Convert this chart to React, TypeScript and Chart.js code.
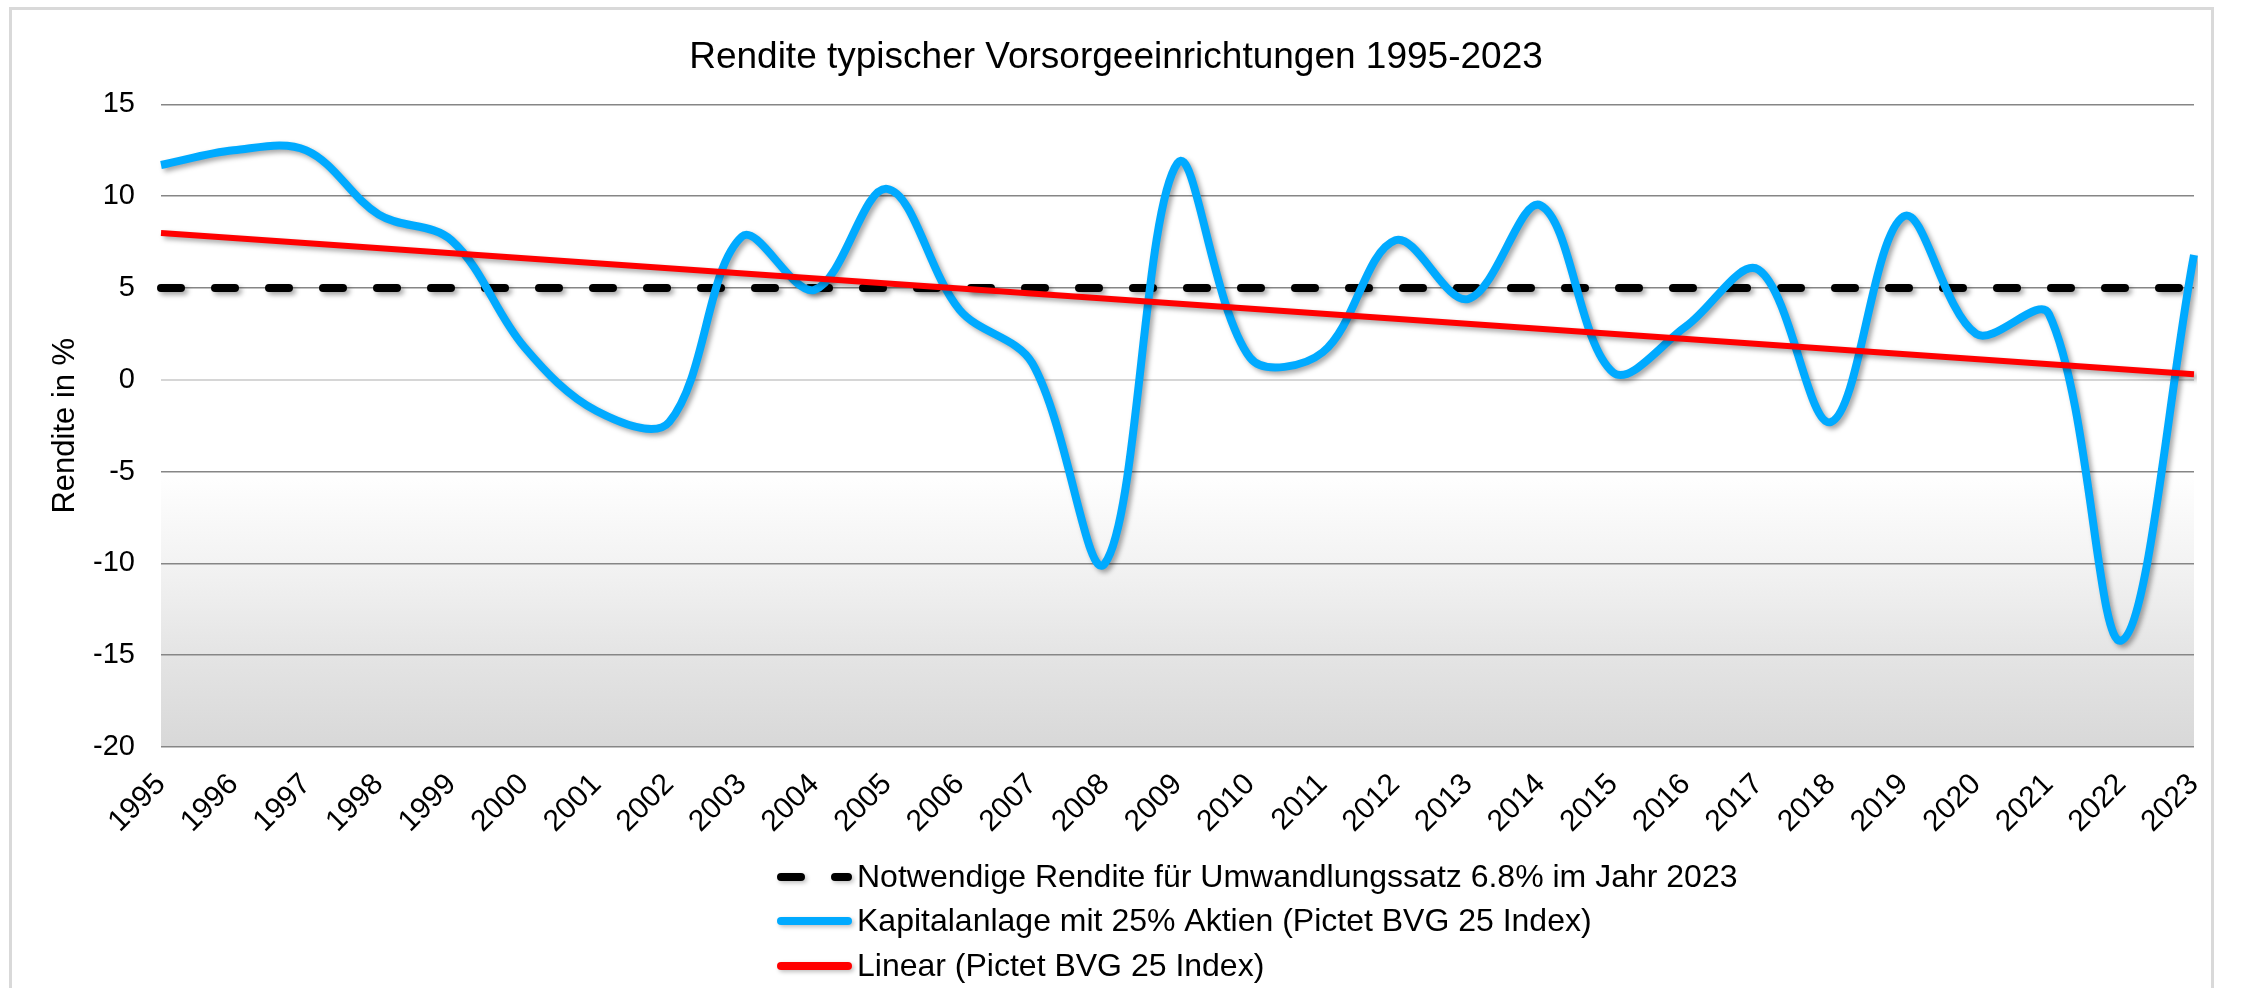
import React, { useEffect, useRef } from 'react';
import { Chart, registerables } from 'chart.js';

Chart.register(...registerables);

// ---------- data ----------
const years = [
  '1995', '1996', '1997', '1998', '1999', '2000', '2001', '2002', '2003', '2004',
  '2005', '2006', '2007', '2008', '2009', '2010', '2011', '2012', '2013', '2014',
  '2015', '2016', '2017', '2018', '2019', '2020', '2021', '2022', '2023',
];

// Kapitalanlage mit 25% Aktien (Pictet BVG 25 Index), Rendite in %
const pictetReturns = [
  11.7, 12.5, 12.5, 9.0, 7.6, 1.8, -1.7, -2.3, 7.8, 4.9,
  10.4, 3.8, 0.9, -10.0, 11.8, 1.2, 1.5, 7.6, 4.4, 9.5,
  0.4, 2.9, 6.0, -2.3, 8.9, 2.5, 3.6, -14.2, 6.8,
];

// Notwendige Rendite (constant level), at first and last year
const requiredReturn = [5, 5];

// Linear trend line, value at first and last year
const trendEnds = [8.0, 0.3];

const yMin = -20;
const yMax = 15;
const yStep = 5;

const chartTitle = 'Rendite typischer Vorsorgeeinrichtungen 1995-2023';
const yAxisTitle = 'Rendite in %';
const seriesNames = [
  'Notwendige Rendite für Umwandlungssatz 6.8% im Jahr 2023',
  'Kapitalanlage mit 25% Aktien (Pictet BVG 25 Index)',
  'Linear (Pictet BVG 25 Index)',
];

const FONT = "'Liberation Sans', Arial, Helvetica, sans-serif";

// ---------- plugins ----------
const backgroundPlugin = {
  id: 'bgPlugin',
  beforeDraw(chart: any) {
    const { ctx, chartArea, scales } = chart;
    ctx.save();
    ctx.fillStyle = '#ffffff';
    ctx.fillRect(0, 0, chart.width, chart.height);
    // outer frame
    ctx.strokeStyle = '#d9d9d9';
    ctx.lineWidth = 3;
    ctx.strokeRect(10.5, 8.5, 2202, 1200);
    // plot gradient in lower band
    const y = scales.y;
    const top = y.getPixelForValue(-5);
    const bottom = y.getPixelForValue(yMin);
    const g = ctx.createLinearGradient(0, top, 0, bottom);
    g.addColorStop(0, '#ffffff');
    g.addColorStop(0.33, '#f3f3f3');
    g.addColorStop(0.67, '#e4e4e4');
    g.addColorStop(1, '#d8d8d8');
    ctx.fillStyle = g;
    ctx.fillRect(chartArea.left, top, chartArea.right - chartArea.left, bottom - top);
    ctx.restore();
  },
};

const shadowPlugin = {
  id: 'shadowPlugin',
  beforeDatasetDraw(chart: any) {
    const ctx = chart.ctx;
    ctx.save();
    ctx.shadowColor = 'rgba(0,0,0,0.35)';
    ctx.shadowBlur = 5;
    ctx.shadowOffsetX = 3;
    ctx.shadowOffsetY = 3;
  },
  afterDatasetDraw(chart: any) {
    chart.ctx.restore();
  },
};

const customLegendPlugin = {
  id: 'customLegend',
  afterDraw(chart: any) {
    const { ctx } = chart;
    const datasets = chart.data.datasets;
    const x0 = 781;
    const x1 = 848;
    const textX = 857;
    const rowY = [877, 921, 966];
    ctx.save();
    datasets.forEach((ds: any, i: number) => {
      const yy = rowY[i];
      ctx.save();
      ctx.shadowColor = 'rgba(0,0,0,0.25)';
      ctx.shadowBlur = 4;
      ctx.shadowOffsetX = 2;
      ctx.shadowOffsetY = 2;
      ctx.strokeStyle = ds.borderColor;
      ctx.lineWidth = 8;
      ctx.lineCap = 'round';
      ctx.setLineDash(ds.borderDash || []);
      ctx.beginPath();
      ctx.moveTo(x0, yy);
      ctx.lineTo(x1, yy);
      ctx.stroke();
      ctx.restore();
      ctx.fillStyle = '#000000';
      ctx.font = `32px ${FONT}`;
      ctx.textBaseline = 'middle';
      ctx.textAlign = 'left';
      ctx.fillText(ds.label, textX, yy + 1);
    });
    ctx.restore();
  },
};

export default function App() {
  const canvasRef = useRef<HTMLCanvasElement | null>(null);

  useEffect(() => {
    if (!canvasRef.current) return;
    Chart.defaults.font.family = FONT;
    const first = years[0];
    const last = years[years.length - 1];
    const chart = new Chart(canvasRef.current, {
      type: 'line',
      data: {
        labels: years,
        datasets: [
          {
            label: seriesNames[0],
            data: [
              { x: first, y: requiredReturn[0] },
              { x: last, y: requiredReturn[1] },
            ],
            borderColor: '#000000',
            backgroundColor: '#000000',
            borderWidth: 8,
            borderDash: [20, 34],
            borderCapStyle: 'round',
            pointRadius: 0,
            tension: 0,
            order: 2,
          },
          {
            label: seriesNames[1],
            data: pictetReturns,
            borderColor: '#00AAFF',
            backgroundColor: '#00AAFF',
            borderWidth: 8,
            borderJoinStyle: 'round',
            pointRadius: 0,
            tension: 0.35,
            order: 1,
          },
          {
            label: seriesNames[2],
            data: [
              { x: first, y: trendEnds[0] },
              { x: last, y: trendEnds[1] },
            ],
            borderColor: '#FF0000',
            backgroundColor: '#FF0000',
            borderWidth: 6,
            pointRadius: 0,
            tension: 0,
            order: 0,
          },
        ] as any,
      },
      options: {
        responsive: false,
        animation: false,
        devicePixelRatio: 1,
        layout: { padding: { left: 38, right: 49, top: 0, bottom: 141 } },
        plugins: {
          legend: { display: false },
          tooltip: { enabled: false },
          title: {
            display: true,
            text: chartTitle,
            color: '#000000',
            font: { size: 37, weight: 'normal' as any, family: FONT },
            padding: { top: 36, bottom: 24 },
          },
        },
        scales: {
          x: {
            type: 'category',
            grid: { display: false, drawTicks: false },
            border: { display: false },
            ticks: {
              autoSkip: false,
              minRotation: 45,
              maxRotation: 45,
              padding: 20,
              color: '#000000',
              font: { size: 30, family: FONT },
            },
            afterFit: (s: any) => {
              s.height = 100;
            },
          },
          y: {
            min: yMin,
            max: yMax,
            ticks: {
              stepSize: yStep,
              padding: 26,
              color: '#000000',
              font: { size: 29, family: FONT },
            },
            grid: {
              drawTicks: false,
              color: (c: any) => (c.tick && c.tick.value === 0 ? '#d6d6d6' : '#868686'),
              lineWidth: (c: any) => (c.tick && c.tick.value === 0 ? 2 : 1.5),
            },
            border: { display: false },
            title: {
              display: true,
              text: yAxisTitle,
              color: '#000000',
              font: { size: 31, family: FONT },
              padding: { top: 9, bottom: 0 },
            },
            afterFit: (s: any) => {
              s.width = 123;
            },
          },
        },
      } as any,
      plugins: [backgroundPlugin, shadowPlugin, customLegendPlugin],
    });
    return () => chart.destroy();
  }, []);

  return (
    <div
      style={{
        position: 'fixed',
        left: 0,
        top: 0,
        width: 2243,
        height: 988,
        background: '#ffffff',
        overflow: 'hidden',
      }}
    >
      <canvas ref={canvasRef} width={2243} height={988} style={{ display: 'block' }} />
    </div>
  );
}
